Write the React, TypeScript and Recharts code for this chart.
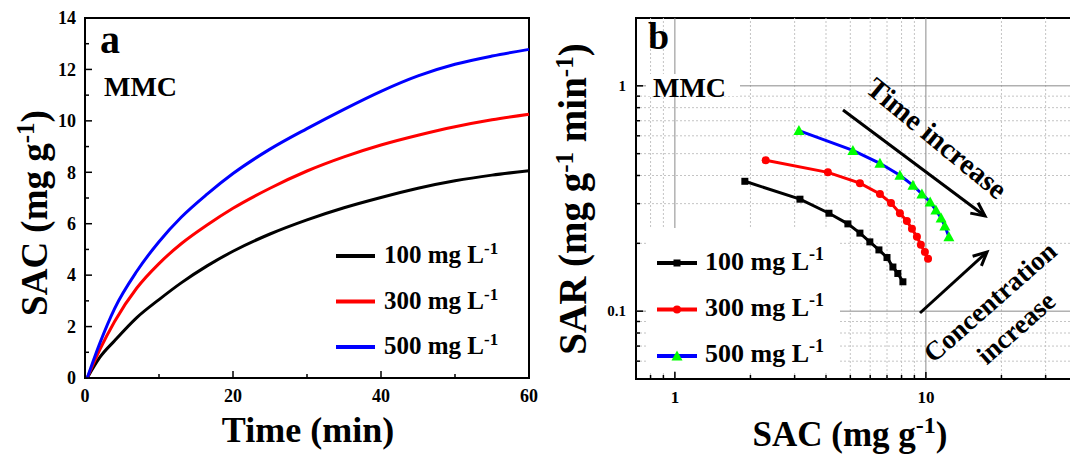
import React from 'react';
import {
  LineChart, Line, XAxis, YAxis, ReferenceArea, ReferenceLine,
  ScatterChart, Scatter
} from 'recharts';

const FONT = '"Liberation Serif", "Times New Roman", serif';

// panel a: SAC vs time (min)
const timeMin = [0.3, 2, 4, 7, 10, 13, 16.5, 20, 25, 30, 35, 40, 45, 50, 55, 60];
const sac100 = [0, 0.8, 1.45, 2.35, 3.05, 3.7, 4.36, 4.93, 5.6, 6.15, 6.62, 7.02, 7.38, 7.67, 7.89, 8.06];
const sac300 = [0, 1.1, 2.2, 3.5, 4.45, 5.22, 5.95, 6.6, 7.38, 8.05, 8.6, 9.06, 9.44, 9.77, 10.04, 10.26];
const sac500 = [0, 1.35, 2.7, 4.15, 5.3, 6.25, 7.15, 7.95, 8.9, 9.7, 10.45, 11.15, 11.75, 12.2, 12.52, 12.78];

const timeTicks = [0, 10, 20, 30, 40, 50, 60];
const timeLabels = [0, 20, 40, 60];
const sacTicks = [0, 1, 2, 3, 4, 5, 6, 7, 8, 9, 10, 11, 12, 13, 14];
const sacLabels = [0, 2, 4, 6, 8, 10, 12, 14];

// panel b: SAR vs SAC, log-log
const sacB100 = [1.9, 3.15, 4.11, 4.89, 5.46, 5.98, 6.5, 7.0, 7.39, 7.73, 8.1];
const sar100 = [0.377, 0.314, 0.272, 0.244, 0.222, 0.203, 0.187, 0.173, 0.157, 0.147, 0.135];
const sacB300 = [2.3, 4.07, 5.46, 6.56, 7.26, 7.88, 8.4, 8.8, 9.21, 9.55, 9.91, 10.2];
const sar300 = [0.467, 0.413, 0.37, 0.331, 0.302, 0.272, 0.251, 0.232, 0.214, 0.197, 0.183, 0.171];
const sacB500 = [3.12, 5.12, 6.56, 7.88, 8.88, 9.64, 10.4, 10.96, 11.5, 11.9, 12.35];
const sar500 = [0.633, 0.517, 0.453, 0.401, 0.362, 0.331, 0.305, 0.281, 0.259, 0.239, 0.214];

const logXMajor = [1, 10];
const logXMinor = [0.8, 0.9, 2, 3, 4, 5, 6, 7, 8, 9, 20, 30];
const logYMajor = [0.1, 1];
const logYMinor = [0.06, 0.07, 0.08, 0.09, 0.2, 0.3, 0.4, 0.5, 0.6, 0.7, 0.8, 0.9];

const legendLabels = ['100 mg L', '300 mg L', '500 mg L'];

const rowsA = timeMin.map((t, i) => ({ t, c100: sac100[i], c300: sac300[i], c500: sac500[i] }));
const pts = (xs: number[], ys: number[]) => xs.map((x, i) => ({ x, y: ys[i] }));

// ticks drawn inward, label only on major values
const bottomTick = (labels: number[], size: number) => (props: any) => {
  const { x, y, payload } = props;
  const major = labels.includes(payload.value);
  return (
    <g>
      <line x1={x} x2={x} y1={y} y2={y - (major ? 7 : 4)} stroke="#000" strokeWidth={1.5} />
      {major && (
        <text x={x} y={y + 24} textAnchor="middle" fontSize={size} fontWeight="bold" fontFamily={FONT} fill="#000">
          {payload.value}
        </text>
      )}
    </g>
  );
};

const leftTick = (labels: number[], size: number, gap: number) => (props: any) => {
  const { x, y, payload } = props;
  const major = labels.includes(payload.value);
  return (
    <g>
      <line x1={x} x2={x + (major ? 7 : 4)} y1={y} y2={y} stroke="#000" strokeWidth={1.5} />
      {major && (
        <text x={x - gap} y={y + size * 0.35} textAnchor="end" fontSize={size} fontWeight="bold" fontFamily={FONT} fill="#000">
          {payload.value}
        </text>
      )}
    </g>
  );
};

const square = (color: string) => (p: any) => (
  <rect x={p.cx - 3.5} y={p.cy - 3.5} width={7} height={7} fill={color} />
);
const circle = (color: string) => (p: any) => <circle cx={p.cx} cy={p.cy} r={4} fill={color} />;
const triangle = (color: string) => (p: any) => (
  <polygon points={`${p.cx},${p.cy - 5.5} ${p.cx - 5.5},${p.cy + 4.5} ${p.cx + 5.5},${p.cy + 4.5}`} fill={color} />
);

const Arrow = ({ x1, y1, x2, y2 }: { x1: number; y1: number; x2: number; y2: number }) => {
  const a = Math.atan2(y2 - y1, x2 - x1);
  const h = 15;
  const s = 0.45;
  return (
    <g stroke="#000" strokeWidth={3} fill="none">
      <line x1={x1} y1={y1} x2={x2} y2={y2} />
      <polyline
        points={`${x2 - h * Math.cos(a - s)},${y2 - h * Math.sin(a - s)} ${x2},${y2} ${x2 - h * Math.cos(a + s)},${y2 - h * Math.sin(a + s)}`}
      />
    </g>
  );
};

const Sup = ({ children, size }: { children: React.ReactNode; size: number }) => (
  <tspan baselineShift="super" fontSize={size}>{children}</tspan>
);

export default function App() {
  const colors = ['#000000', '#ff0000', '#0000ff'];
  return (
    <div style={{ position: 'absolute', left: 0, top: 0, width: 1070, height: 454, overflow: 'hidden', background: '#fff' }}>
      <div style={{ position: 'absolute', left: 0, top: 0 }}>
        <LineChart width={540} height={454} data={rowsA} margin={{ top: 18, right: 11, left: 25, bottom: 46 }}>
          <XAxis
            dataKey="t" type="number" domain={[0, 60]} ticks={timeTicks} interval={0}
            height={30} tickSize={0} tickMargin={0} axisLine={false} tickLine={false}
            tick={bottomTick(timeLabels, 18)}
          />
          <YAxis
            type="number" domain={[0, 14]} ticks={sacTicks} interval={0}
            width={60} tickSize={0} tickMargin={0} axisLine={false} tickLine={false}
            tick={leftTick(sacLabels, 18, 9)}
          />
          <ReferenceArea x1={0} x2={60} y1={0} y2={14} fill="none" stroke="#000" strokeWidth={2} fillOpacity={0} />
          <Line dataKey="c100" type="monotone" stroke="#000" strokeWidth={3} dot={false} isAnimationActive={false} />
          <Line dataKey="c300" type="monotone" stroke="#ff0000" strokeWidth={3} dot={false} isAnimationActive={false} />
          <Line dataKey="c500" type="monotone" stroke="#0000ff" strokeWidth={3} dot={false} isAnimationActive={false} />
        </LineChart>
      </div>

      <div style={{ position: 'absolute', left: 540, top: 0 }}>
        <ScatterChart width={545} height={454} margin={{ top: 18, right: 8, left: 36, bottom: 45 }}>
          <XAxis
            dataKey="x" type="number" scale="log" domain={[0.7, 40]} allowDataOverflow
            ticks={[...logXMinor, ...logXMajor].sort((a, b) => a - b)} interval={0}
            height={30} tickSize={0} tickMargin={0} axisLine={false} tickLine={false}
            tick={bottomTick(logXMajor, 17)}
          />
          <YAxis
            dataKey="y" type="number" scale="log" domain={[0.05, 2]} allowDataOverflow
            ticks={[...logYMinor, ...logYMajor].sort((a, b) => a - b)} interval={0}
            width={60} tickSize={0} tickMargin={0} axisLine={false} tickLine={false}
            tick={leftTick(logYMajor, 15, 10)}
          />
          {logXMinor.map((v) => (
            <ReferenceLine key={`vx${v}`} x={v} stroke="#c4c4c4" strokeDasharray="2 2" />
          ))}
          {logYMinor.map((v) => (
            <ReferenceLine key={`vy${v}`} y={v} stroke="#c4c4c4" strokeDasharray="2 2" />
          ))}
          {logXMajor.map((v) => (
            <ReferenceLine key={`mx${v}`} x={v} stroke="#8a8a8a" />
          ))}
          {logYMajor.map((v) => (
            <ReferenceLine key={`my${v}`} y={v} stroke="#8a8a8a" />
          ))}
          <ReferenceArea x1={0.7} x2={40} y1={0.05} y2={2} fill="none" fillOpacity={0} stroke="#000" strokeWidth={2} />
          <Scatter data={pts(sacB100, sar100)} line={{ stroke: '#000', strokeWidth: 3 }} shape={square('#000')} isAnimationActive={false} />
          <Scatter data={pts(sacB300, sar300)} line={{ stroke: '#ff0000', strokeWidth: 3 }} shape={circle('#ff0000')} isAnimationActive={false} />
          <Scatter data={pts(sacB500, sar500)} line={{ stroke: '#0000ff', strokeWidth: 3 }} shape={triangle('#00ff00')} isAnimationActive={false} />
        </ScatterChart>
      </div>

      <svg width={1070} height={454} style={{ position: 'absolute', left: 0, top: 0, pointerEvents: 'none' }} fontFamily={FONT} fontWeight="bold">
        {/* panel a */}
        <text x={100} y={53} fontSize={40}>a</text>
        <text x={104} y={96} fontSize={28}>MMC</text>
        {legendLabels.map((l, i) => (
          <g key={`la${i}`}>
            <line x1={336} x2={375} y1={256 + i * 45.5} y2={256 + i * 45.5} stroke={colors[i]} strokeWidth={4} />
            <text x={384} y={263 + i * 45.5} fontSize={25}>
              {l}<Sup size={17}>-1</Sup>
            </text>
          </g>
        ))}
        <text transform="translate(47,213) rotate(-90)" textAnchor="middle" fontSize={37}>
          SAC (mg g<Sup size={25}>-1</Sup>)
        </text>
        <text x={308} y={442} textAnchor="middle" fontSize={36}>Time (min)</text>

        {/* panel b */}
        <text x={648} y={49} fontSize={38}>b</text>
        <rect x={646} y={74} width={94} height={22} fill="#fff" />
        <text x={653} y={97} fontSize={28}>MMC</text>
        <rect x={646} y={228} width={194} height={143} fill="#fff" />
        {legendLabels.map((l, i) => (
          <g key={`lb${i}`}>
            <line x1={657} x2={697} y1={263 + i * 46.5} y2={263 + i * 46.5} stroke={colors[i]} strokeWidth={4} />
            {i === 0 && <rect x={673.5} y={259.5} width={7} height={7} fill="#000" />}
            {i === 1 && <circle cx={677} cy={309.5} r={4} fill="#ff0000" />}
            {i === 2 && <polygon points="677,350.5 671.5,360.5 682.5,360.5" fill="#00ff00" />}
            <text x={705} y={270 + i * 46} fontSize={26}>
              {l}<Sup size={18}>-1</Sup>
            </text>
          </g>
        ))}
        <text transform="translate(586,199) rotate(-90)" textAnchor="middle" fontSize={39}>
          SAR (mg g<Sup size={25}>-1</Sup> min<Sup size={25}>-1</Sup>)
        </text>
        <text x={850} y={446} textAnchor="middle" fontSize={35}>
          SAC (mg g<Sup size={24}>-1</Sup>)
        </text>
        <text transform="translate(937,138) rotate(39.5)" textAnchor="middle" dominantBaseline="central" fontSize={29}>
          Time increase
        </text>
        <Arrow x1={843} y1={110} x2={985} y2={216} />
        <text transform="translate(990,302) rotate(-41.4)" textAnchor="middle" dominantBaseline="central" fontSize={27}>
          Concentration
        </text>
        <text transform="translate(1016,328) rotate(-41.4)" textAnchor="middle" dominantBaseline="central" fontSize={27}>
          increase
        </text>
        <Arrow x1={920} y1={313} x2={987} y2={252} />
      </svg>
    </div>
  );
}
